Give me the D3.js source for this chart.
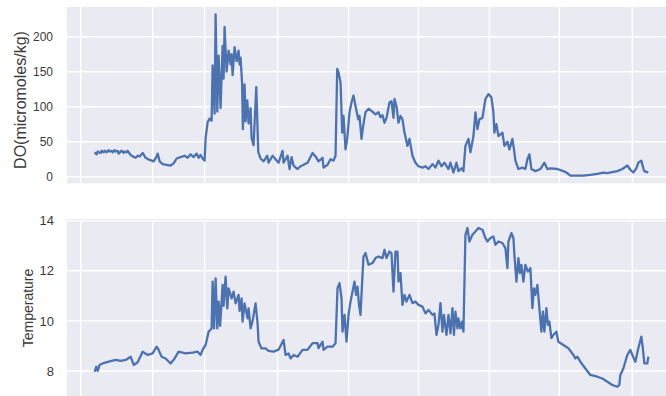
<!DOCTYPE html>
<html>
<head>
<meta charset="utf-8">
<script src="https://cdn.jsdelivr.net/npm/d3@7"></script>
<style>
  html, body { margin: 0; padding: 0; background: #fff; }
  svg { display: block; }
  .tick-label { font-family: "Liberation Sans Narrow", "Arial Narrow", "Liberation Sans", Arial, sans-serif; fill: #3a3a3a; }
  .axis-title { font-family: "Liberation Sans", Arial, sans-serif; fill: #3a3a3a; }
</style>
</head>
<body>
<svg id="chart" width="666" height="396"></svg>
<script>
// Sample step along the record (shared by both panels)
const gridSteps = [-14, 58, 110, 183, 254, 324, 395, 465, 538];
const stepDomain = [-27.7, 581.7];

// Dissolved oxygen, [step, micromoles/kg]
const doReadings = [
  [0,35],[1,33],[2,32],[3,36],[4,35],[6,34],[7,37],[9,35],[10,37],[12,35],[14,38],[15,36],[17,37],
  [18,35],[20,38],[21,36],[23,37],[24,33],[26,36],[27,37],[29,34],[30,36],[32,35],[33,37],
  [36,31],[38,29],[41,27],[43,30],[45,29],[48,34],[51,27],[55,24],[59,22],[62,29],[63,33],[65,22],[68,18],[72,17],
  [76,16],[79,19],[82,26],[86,28],[90,30],[93,27],[96,32],[99,28],[102,33],[104,27],[106,31],[108,26],
  [110,23],[111,55],[113,78],[115,83],[117,80],[118,159],[120,90],[121,232],[122.7,93],[124,173],
  [126,98],[128,187],[129,140],[130,214],[132,150],[134,180],[136,160],[137,175],[138,145],[140,185],
  [142,165],[144,180],[145,160],[146,170],[147.5,134],[148.3,68],[150,132],[151,79],[152.7,109],
  [154,76],[156,98],[157,55],[159,45],[161.7,128],[163.7,35],[166,26],[169,22],[172.7,30],[174,20],
  [178,30],[181,25],[184,20],[188,37],[189,20],[193,30],[195,11],[197,28],[199,16],[203,11],[206,15],
  [209,17],[213,20],[218,34],[221,29],[224,22],[228,27],[229,13],[233,17],[236,25],[239,23],[241,30],
  [242.7,154],[244,149],[246,135],[247.7,63],[249,87],[251,39],[252.7,54],[255,92],[257,106],[259,116],
  [261,101],[263.7,82],[265,87],[267,54],[268.7,73],[271,92],[274,97],[277,94],[281,89],[284,92],
  [286,85],[288,88],[290,77],[292,84],[295,106],[297,108],[299,84],[300,111],[302,101],[304,77],
  [306,87],[308,82],[310,63],[313,44],[315,54],[318,30],[321,20],[324,15],[328,13],[331,15],[334,11],
  [338,18],[341,13],[344,23],[347,15],[350,20],[354,11],[356,20],[359,6],[362,20],[364,8],[367,12],
  [369,8],[371,44],[374,54],[376,35],[379,58],[381,92],[383,68],[385,82],[388,84],[391,111],[394,118],
  [397,113],[399,92],[400,63],[402,75],[404,58],[408,63],[410,44],[413,50],[415,39],[418,54],[419.5,40],
  [421,23],[424,11],[428,13],[431,11],[433,25],[435,32],[437,11],[441,8],[446,11],[450,20],[453,11],
  [456,12],[463,11],[469,8],[472,6],[476,1.5],[481,1.5],[489,1.5],[496,2.5],[503,4],[509,6],[513,5],
  [519,7],[523,8],[528,11],[533,16],[536,10],[539,6],[542,12],[544,20],[547,23],[549,12],[550,8],
  [552,7],[554,6]
];

// Temperature, [step, degrees]
const tempReadings = [
  [0,7.97],[1.5,8.17],[3,8.0],[5,8.25],[8,8.3],[14,8.37],[21,8.44],[26,8.4],[31,8.44],[36,8.57],
  [39,8.24],[43,8.35],[48,8.77],[53,8.64],[58,8.7],[62,8.97],[64,8.84],[67,8.57],[71,8.5],[76,8.3],
  [80,8.5],[84,8.77],[91,8.7],[98,8.73],[103,8.77],[106,8.64],[108,8.84],[111,9.04],[114,9.57],
  [117,9.7],[118,11.57],[119.5,9.7],[121,11.7],[122.7,9.7],[124,10.77],[125.5,9.8],[128,11.44],
  [129,10.6],[131,11.77],[132.7,10.5],[134,11.3],[137,10.9],[139,11.17],[141,10.7],[144,11.04],
  [145,10.4],[147,10.9],[148,9.97],[150,10.7],[153,10.1],[154,10.5],[156,9.7],[158,10.0],[161,10.7],
  [163,9.9],[164,9.17],[167,8.9],[171,8.9],[174,8.8],[179,8.77],[184,8.85],[189,9.24],[191,8.64],
  [194,8.7],[196,8.5],[199,8.64],[203,8.57],[208,8.84],[213,8.84],[218,9.11],[223,9.11],[224,8.91],
  [228,9.17],[229,8.84],[233,8.97],[238,8.97],[241,9.11],[243,11.31],[245,11.51],[247,10.9],[248,9.57],
  [250,10.24],[252,9.17],[254,10.24],[256,10.77],[258,11.17],[260,11.57],[261.5,11.04],[263,11.37],
  [264.5,10.64],[266,10.24],[268,11.84],[269,12.57],[271,12.71],[274,12.24],[278,12.31],[281,12.51],
  [284,12.57],[288,12.51],[290,12.84],[292,12.51],[295,12.77],[297,12.71],[299,11.17],[301,12.77],
  [303,12.77],[304,11.57],[306,11.91],[308,10.64],[310,11.04],[312,10.77],[315,11.04],[318,10.71],
  [321,10.77],[324,10.64],[328,10.57],[331,10.3],[334,10.44],[338,10.24],[340,10.3],[342,9.44],
  [344,9.84],[346,10.71],[348,9.57],[349.5,10.24],[352,9.44],[354,10.24],[356,9.5],[358,10.51],
  [359.5,9.44],[361,10.37],[363,9.7],[364,10.1],[366,9.7],[367.5,9.97],[369,9.57],[371,13.44],
  [373,13.71],[375,13.17],[378,13.44],[381,13.57],[384,13.71],[388,13.64],[391,13.31],[393,13.17],
  [396,13.31],[399,13.37],[401,13.04],[404,13.17],[408,13.11],[411,12.91],[413,12.11],[414,13.17],
  [417,13.51],[419,13.31],[420,12.64],[422,11.57],[424,12.51],[425.5,11.91],[427,12.24],[429,11.57],
  [431,12.24],[433.5,11.97],[436,12.11],[438,10.51],[439.5,11.3],[441,11.04],[443,11.44],[445,10.51],
  [447,9.57],[448.5,10.37],[450,9.57],[452,10.51],[453.5,9.84],[455,9.97],[457,9.31],[459,9.44],
  [462,9.57],[464,9.17],[469,9.04],[474,8.91],[479,8.64],[481,8.5],[483,8.57],[486,8.37],[491,8.1],
  [496,7.84],[503,7.77],[508,7.7],[513,7.57],[518,7.44],[523,7.37],[525,7.44],[526,7.84],[529,8.1],
  [533,8.64],[536,8.84],[538,8.64],[541,8.37],[544,8.91],[547,9.37],[548.5,8.91],[550,8.3],[553,8.3],
  [554,8.57]
];

const doTicks = [0, 50, 100, 150, 200];
const tempTicks = [8, 10, 12, 14];

const svg = d3.select("#chart");
const lineColor = "#4c72b0";
const panelBg = "#eaeaf2";

const left = 67, right = 676;
const x = d3.scaleLinear().domain(stepDomain).range([left, right]);

function drawPanel(cfg) {
  const { id, top, bottom, domain, ticks, data, title, titleX, titleY, titleSize, tickSize, tickEnd } = cfg;
  const y = d3.scaleLinear().domain(domain).range([bottom, top]);
  const g = svg.append("g");

  g.append("clipPath").attr("id", id).append("rect")
    .attr("x", left).attr("y", top).attr("width", right - left).attr("height", bottom - top);

  g.append("rect")
    .attr("x", left).attr("y", top).attr("width", right - left).attr("height", bottom - top)
    .attr("fill", panelBg);

  const grid = g.append("g").attr("clip-path", `url(#${id})`)
    .attr("stroke", "#fff").attr("stroke-width", 1.4);
  grid.selectAll("line.h").data(ticks).join("line").attr("class", "h")
    .attr("x1", left).attr("x2", right).attr("y1", d => y(d)).attr("y2", d => y(d));
  grid.selectAll("line.v").data(gridSteps).join("line").attr("class", "v")
    .attr("x1", d => x(d)).attr("x2", d => x(d)).attr("y1", top).attr("y2", bottom);

  const line = d3.line().x(d => x(d[0])).y(d => y(d[1]));
  g.append("path").datum(data)
    .attr("clip-path", `url(#${id})`)
    .attr("fill", "none").attr("stroke", lineColor).attr("stroke-width", 2.3)
    .attr("stroke-linejoin", "round").attr("d", line);

  const axis = d3.axisLeft(y).tickValues(ticks).tickFormat(d3.format("d")).tickSize(0).tickPadding(0);
  const ax = g.append("g").attr("transform", `translate(${tickEnd},0)`).call(axis);
  ax.select(".domain").remove();
  ax.selectAll("text").attr("class", "tick-label").attr("font-size", tickSize)
    .attr("fill", null).attr("font-family", null);

  g.append("text").attr("class", "axis-title")
    .attr("transform", `translate(${titleX},${titleY}) rotate(-90)`)
    .attr("text-anchor", "middle").attr("dy", "0.35em")
    .attr("font-size", titleSize).text(title);
}

drawPanel({
  id: "clip-do", top: 7, bottom: 183.3, domain: [-9.4, 242.4], ticks: doTicks,
  data: doReadings, title: "DO(micromoles/kg)", titleX: 20, titleY: 100, titleSize: 16,
  tickSize: 12, tickEnd: 53
});

drawPanel({
  id: "clip-temp", top: 219, bottom: 396, domain: [7.0, 14.07], ticks: tempTicks,
  data: tempReadings, title: "Temperature", titleX: 28, titleY: 308, titleSize: 14,
  tickSize: 13, tickEnd: 54
});
</script>
</body>
</html>
